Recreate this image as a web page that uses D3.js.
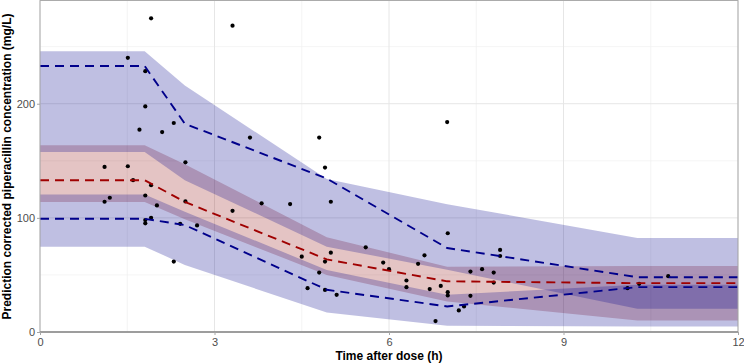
<!DOCTYPE html>
<html>
<head>
<meta charset="utf-8">
<script src="https://cdn.jsdelivr.net/npm/d3@7"></script>
<style>
body { margin:0; background:#fff; }
svg { font-family: "Liberation Sans", Arial, sans-serif; }
.tick text { fill:#4d4d4d; font-size:11px; }
.tick line { stroke:#a6a6a6; }
.domain { display:none; }
.axis-title { font-weight:bold; font-size:12px; fill:#000; }
</style>
</head>
<body>
<div id="chart"></div>
<script>
// bin positions (h) used by the ribbons and observed percentile lines
const binTime = [0, 1.80, 2.49, 4.93, 7.00, 10.27, 12]

// simulated CI ribbons
const hiCiUpper  = [246, 246, 216, 134, 112, 82.4, 82.4]
const hiCiLower  = [157.7, 157.7, 133, 74.8, 54.5, 20.3, 20.3]
const medCiUpper = [163.6, 163.6, 147, 83, 57.2, 57.9, 57.9]
const medCiLower = [114, 114, 98.7, 50, 26.7, 10.1, 10.1]
const loCiUpper  = [120.5, 120.5, 105.3, 54.4, 32.6, 41.3, 41.3]
const loCiLower  = [74.8, 74.8, 58.8, 17, 5.5, 4.9, 4.9]

// observed percentiles
const obsHi  = [233, 233, 182.5, 134.4, 73.6, 48.0, 48.0]
const obsMed = [133, 133, 114, 63.6, 44.4, 42.8, 42.8]
const obsLo  = [99.2, 99.2, 93.7, 37, 22.4, 39.3, 39.3]

// observed points
const obsTime = [1.91,3.31,1.51,1.81,1.81,1.71,2.10,2.30,3.61,1.11,1.51,2.50,1.60,1.91,1.81,1.11,1.20,2.01,2.50,3.31,
  1.91,1.81,1.81,2.41,2.70,2.30,3.81,4.30,7.00,4.80,4.90,5.00,7.01,5.60,5.00,6.61,4.50,4.90,5.90,6.50,
  6.00,7.40,7.60,7.80,7.91,7.91,4.80,6.30,7.80,6.89,6.30,6.70,4.60,4.90,5.10,7.01,7.01,7.40,7.20,7.29,
  6.80,10.10,10.30,10.80]
const obsConc = [274.8,268.4,240.2,228.5,197.6,177.3,175.2,183.1,170.3,144.6,145.2,148.7,133.0,128.6,119.6,114.1,117.6,110.9,114.4,106.2,
  100.1,98.1,95.2,94.8,93.4,61.7,112.7,112.1,183.9,170.3,144.1,114.1,86.5,74.2,69.5,67.2,66.0,61.7,60.8,59.7,
  55.0,52.9,55.0,52.1,71.9,66.6,52.1,45.1,43.3,40.4,39.3,37.6,38.4,36.9,32.6,34.9,32.0,31.7,18.9,22.4,
  9.6,38.4,42.2,48.9]

const xTicks = [0, 3, 6, 9, 12]
const yTicks = [0, 100, 200]

const width = 744, height = 364
const margin = {left:40, top:1, right:6, bottom:32}

const svg = d3.select('#chart').append('svg')
.attr('width', width)
.attr('height', height)

const xScale = d3.scaleLinear()
.domain([0, 12])
.range([margin.left, width - margin.right])

const yScale = d3.scaleLinear()
.domain([0, 290])
.range([height - margin.bottom, margin.top])

// grid
const grid = svg.append('g')
const minorX = [1.5, 4.5, 7.5, 10.5], minorY = [50, 150, 250]

grid.selectAll('.minx').data(minorX).enter().append('line')
.attr('x1', d => xScale(d)).attr('x2', d => xScale(d))
.attr('y1', yScale.range()[0]).attr('y2', yScale.range()[1])
.attr('stroke', '#efefef').attr('stroke-width', 0.7)

grid.selectAll('.miny').data(minorY).enter().append('line')
.attr('x1', xScale.range()[0]).attr('x2', xScale.range()[1])
.attr('y1', d => yScale(d)).attr('y2', d => yScale(d))
.attr('stroke', '#efefef').attr('stroke-width', 0.7)

grid.selectAll('.majx').data(xTicks).enter().append('line')
.attr('x1', d => xScale(d)).attr('x2', d => xScale(d))
.attr('y1', yScale.range()[0]).attr('y2', yScale.range()[1])
.attr('stroke', '#e6e6e6').attr('stroke-width', 1)

grid.selectAll('.majy').data(yTicks).enter().append('line')
.attr('x1', xScale.range()[0]).attr('x2', xScale.range()[1])
.attr('y1', d => yScale(d)).attr('y2', d => yScale(d))
.attr('stroke', '#e6e6e6').attr('stroke-width', 1)

// ribbons: median CI first, then the two blue ones on top
const ribbon = (lo, hi) => d3.area()
.x((d, i) => xScale(binTime[i]))
.y0((d, i) => yScale(lo[i]))
.y1((d, i) => yScale(hi[i]))(binTime)

const bands = svg.append('g')
bands.append('path').attr('d', ribbon(medCiLower, medCiUpper)).attr('fill', '#8b0000').attr('fill-opacity', 0.23)
bands.append('path').attr('d', ribbon(hiCiLower, hiCiUpper)).attr('fill', '#00008b').attr('fill-opacity', 0.25)
bands.append('path').attr('d', ribbon(loCiLower, loCiUpper)).attr('fill', '#00008b').attr('fill-opacity', 0.25)

// observed points
svg.append('g').selectAll('circle')
.data(obsTime)
.enter()
.append('circle')
.attr('cx', d => xScale(d))
.attr('cy', (d, i) => yScale(obsConc[i]))
.attr('r', 2.1)
.attr('fill', '#000')

// observed percentile lines
const pctLine = vals => d3.line()
.x((d, i) => xScale(binTime[i]))
.y((d, i) => yScale(vals[i]))(binTime)

const lines = svg.append('g')
lines.append('path').attr('d', pctLine(obsHi)).attr('fill', 'none').attr('stroke', '#00008b').attr('stroke-width', 1.9).attr('stroke-dasharray', '9,6')
lines.append('path').attr('d', pctLine(obsLo)).attr('fill', 'none').attr('stroke', '#00008b').attr('stroke-width', 1.9).attr('stroke-dasharray', '9,6')
lines.append('path').attr('d', pctLine(obsMed)).attr('fill', 'none').attr('stroke', '#a00000').attr('stroke-width', 1.9).attr('stroke-dasharray', '9,6')

// panel border
svg.append('rect')
.attr('x', xScale.range()[0])
.attr('y', yScale.range()[1] - 0.5)
.attr('width', xScale.range()[1] - xScale.range()[0])
.attr('height', yScale.range()[0] - yScale.range()[1] + 0.5)
.attr('fill', 'none')
.attr('stroke', '#ababab')
.attr('stroke-width', 1)

svg.append('line')
.attr('x1', xScale.range()[0]).attr('x2', xScale.range()[1])
.attr('y1', yScale(0)).attr('y2', yScale(0))
.attr('stroke', '#8c8c8c').attr('stroke-width', 1.4)

// axes
svg.append('g')
.attr('transform', `translate(0,${height - margin.bottom})`)
.call(d3.axisBottom(xScale).tickValues(xTicks).tickSize(3).tickPadding(3).tickFormat(d3.format('d')))

svg.append('g')
.attr('transform', `translate(${margin.left},0)`)
.call(d3.axisLeft(yScale).tickValues(yTicks).tickSize(3).tickPadding(2).tickFormat(d3.format('d')))

svg.append('text')
.attr('class', 'axis-title')
.attr('x', (xScale.range()[0] + xScale.range()[1]) / 2)
.attr('y', 360)
.attr('text-anchor', 'middle')
.text('Time after dose (h)')

svg.append('text')
.attr('class', 'axis-title')
.attr('transform', `translate(10.5,${(yScale.range()[0] + yScale.range()[1]) / 2}) rotate(-90)`)
.attr('text-anchor', 'middle')
.text('Prediction corrected piperacillin concentration (mg/L)')
</script>
</body>
</html>
